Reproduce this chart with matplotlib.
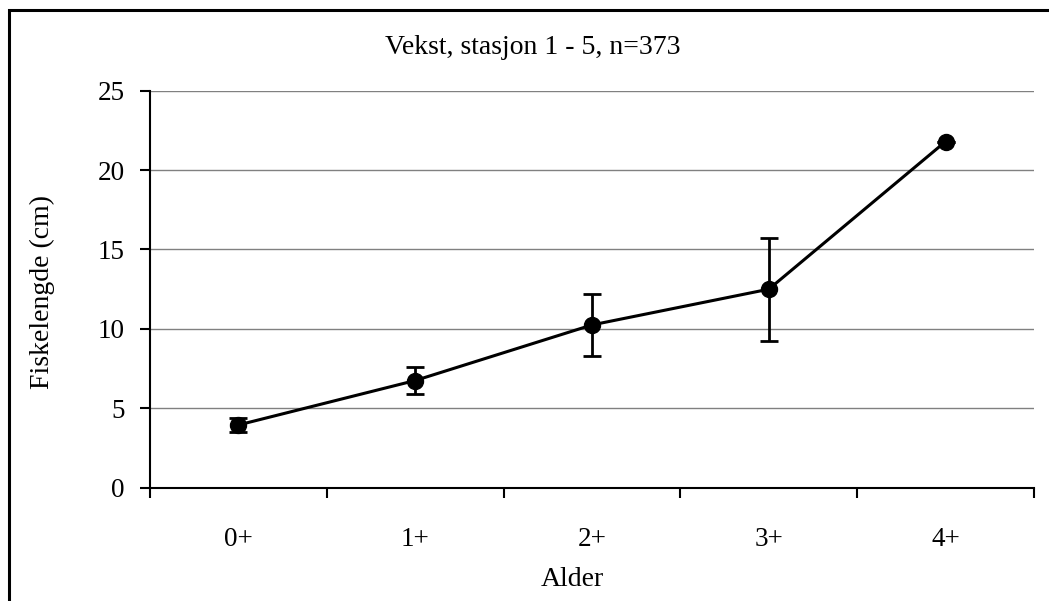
import matplotlib
matplotlib.use("Agg")
import matplotlib.pyplot as plt
from matplotlib.patches import Rectangle

# data
alder = ["0+", "1+", "2+", "3+", "4+"]
lengde = [3.95, 6.75, 10.25, 12.5, 21.8]
sd = [0.42, 0.83, 1.97, 3.25, 0.0]

plt.rcParams["font.family"] = ["Liberation Serif", "DejaVu Serif"]

W, H = 1049, 601
fig = plt.figure(figsize=(W / 100, H / 100), dpi=100)

left, right, top, bottom = 150, 1034, 90.7, 487.7
ax = fig.add_axes([left / W, 1 - bottom / H, (right - left) / W, (bottom - top) / H])

x = list(range(len(alder)))
ax.errorbar(x, lengde, yerr=sd, color="black", lw=2.2, marker="o",
            markersize=11.5, capsize=6.5, capthick=2.0, elinewidth=2.0)

ax.set_xlim(-0.5, len(alder) - 0.5)
ax.set_ylim(0, 25)
ax.set_yticks([0, 5, 10, 15, 20, 25])
ax.yaxis.grid(True, color="#808080", lw=1.0)
ax.set_axisbelow(True)

# ticks between categories, labels under categories
ax.set_xticks([i - 0.5 for i in range(len(alder) + 1)])
ax.set_xticklabels([])
ax.set_xticks(x, minor=True)
ax.set_xticklabels(alder, minor=True)
ax.tick_params(axis="x", which="major", length=7, width=1.5, direction="out")
ax.tick_params(axis="x", which="minor", length=0, pad=28, labelsize=19.5)
ax.tick_params(axis="y", length=7, width=1.5, pad=11, labelsize=19.5)

for s in ["top", "right"]:
    ax.spines[s].set_visible(False)
for s in ["left", "bottom"]:
    ax.spines[s].set_linewidth(1.5)

fig.text(533 / W, 1 - 47 / H, "Vekst, stasjon 1 - 5, n=373", ha="center",
         va="center", fontsize=20)
fig.text(572 / W, 1 - 580 / H, "Alder", ha="center", va="center", fontsize=20)
fig.text(42 / W, 1 - 292 / H, "Fiskelengde (cm)", ha="center", va="center",
         rotation=90, fontsize=20)

# frame round the chart
fig.add_artist(Rectangle((9 / W, -0.1), 1.2, 1.1 - 10 / H,
                         transform=fig.transFigure, fill=False,
                         edgecolor="black", lw=2.2))

fig.savefig("out.png", dpi=100)
